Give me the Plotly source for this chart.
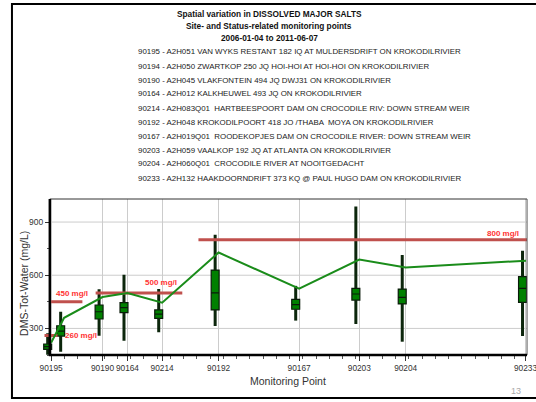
import plotly.graph_objects as go

# ---------------------------------------------------------------- data
station_ids = ["90195", "90194", "90190", "90164", "90214",
               "90192", "90167", "90203", "90204", "90233"]
# distance along the river (km), used as the x coordinate
station_km = [0.0, 4.9, 19.4, 28.8, 41.9, 63.2, 93.6, 116.3, 133.8, 179.2]
labelled = [True, False, True, True, True, True, True, True, True, True]

station_names = [
    "A2H051 VAN WYKS RESTANT 182 IQ AT MULDERSDRIFT ON KROKODILRIVIER",
    "A2H050 ZWARTKOP 250 JQ HOI-HOI AT HOI-HOI ON KROKODILRIVIER",
    "A2H045 VLAKFONTEIN 494 JQ DWJ31 ON KROKODILRIVIER",
    "A2H012 KALKHEUWEL 493 JQ ON KROKODILRIVIER",
    "A2H083Q01  HARTBEESPOORT DAM ON CROCODILE RIV: DOWN STREAM WEIR",
    "A2H048 KROKODILPOORT 418 JO /THABA  MOYA ON KROKODILRIVIER",
    "A2H019Q01  ROODEKOPJES DAM ON CROCODILE RIVER: DOWN STREAM WEIR",
    "A2H059 VAALKOP 192 JQ AT ATLANTA ON KROKODILRIVIER",
    "A2H060Q01  CROCODILE RIVER AT NOOITGEDACHT",
    "A2H132 HAAKDOORNDRIFT 373 KQ @ PAUL HUGO DAM ON KROKODILRIVIER",
]

# DMS statistics per station (mg/L)
dms_low = [152, 169, 259, 231, 278, 314, 344, 325, 225, 257]
dms_q1 = [182, 257, 353, 389, 357, 404, 408, 460, 438, 447]
dms_median = [197, 285, 394, 417, 381, 501, 434, 494, 475, 526]
dms_q3 = [212, 315, 432, 445, 404, 629, 464, 526, 522, 592]
dms_high = [272, 394, 521, 603, 522, 829, 540, 987, 714, 738]
dms_trend = [219, 360, 477, 500, 445, 728, 524, 688, 643, 682]

# water quality targets (mg/L) and the reach (km) they apply to
target_values = [260, 450, 500, 800]
target_from_km = [-2.5, 0.0, 16.8, 55.6]
target_to_km = [2.4, 11.8, 49.5, 179.8]
target_labels = ["260 mg/l", "450 mg/l", "500 mg/l", "800 mg/l"]

y_ticks = [300, 600, 900]
y_range = [150, 1030]
x_range = [-3.5, 179.6]

title_lines = ["Spatial variation in DISSOLVED MAJOR SALTS",
               "Site- and Status-related monitoring points",
               "2006-01-04 to 2011-06-07"]

# ---------------------------------------------------------------- layout helpers
W, H = 536, 402
FONT = "Liberation Sans, Arial, sans-serif"


def px_x(p):
    return p / W


def px_y(p):
    return 1 - p / H


PLOT_L, PLOT_R, PLOT_T, PLOT_B = 40, 527, 199, 355
AXIS_X = 48
BOX_SHIFT = -1.3   # boxes sit just left of their station tick
BOX_W = 3.0

fig = go.Figure()

# whiskers: below and above each box
wx, wy = [], []
for km, lo, q1, q3, hi in zip(station_km, dms_low, dms_q1, dms_q3, dms_high):
    xb = km + BOX_SHIFT
    wx += [xb, xb, None, xb, xb, None]
    wy += [lo, q1, None, q3, hi, None]
fig.add_trace(go.Scatter(x=wx, y=wy, mode="lines",
                         line=dict(color="#0c260c", width=3),
                         hoverinfo="skip", showlegend=False))

# boxes (inter-quartile range and median)
fig.add_trace(go.Box(
    x=[km + BOX_SHIFT for km in station_km],
    q1=dms_q1, median=dms_median, q3=dms_q3,
    lowerfence=dms_q1, upperfence=dms_q3,
    width=BOX_W, whiskerwidth=0, boxpoints=False,
    fillcolor="#008000", line=dict(color="#0a1a0a", width=1.2),
    showlegend=False))

# target lines
for v, a, b in zip(target_values, target_from_km, target_to_km):
    fig.add_trace(go.Scatter(x=[a, b], y=[v, v], mode="lines",
                             line=dict(color="#c0504d", width=3),
                             hoverinfo="skip", showlegend=False))

# trend line through the stations
fig.add_trace(go.Scatter(x=station_km, y=dms_trend, mode="lines",
                         line=dict(color="#1a8c1a", width=2),
                         hoverinfo="skip", showlegend=False))

annotations = []
# titles
for i, t in enumerate(title_lines):
    annotations.append(dict(text="<b>%s</b>" % t, x=px_x(268), y=px_y(14 + 12 * i),
                            xref="paper", yref="paper", showarrow=False,
                            xanchor="center", yanchor="middle",
                            font=dict(family=FONT, size=8.3, color="#111")))
# station list
for i, (sid, name) in enumerate(zip(station_ids, station_names)):
    annotations.append(dict(text="%s - %s" % (sid, name), x=px_x(134), y=px_y(52 + 14 * i),
                            xref="paper", yref="paper", showarrow=False,
                            xanchor="left", yanchor="middle",
                            font=dict(family=FONT, size=7.9, color="#222")))

# target labels
label_pos = [  # (x anchor, y shift px)
    ("left", 0), ("left", 8), ("left", 10), ("right", 6)]
label_x_km = [4.4, 1.1, 34.7, 177.2]
for (anc, ys), lx, v, lab in zip(label_pos, label_x_km, target_values, target_labels):
    annotations.append(dict(text="<b>%s</b>" % lab, x=lx, y=v, xref="x", yref="y",
                            showarrow=False, xanchor=anc, yanchor="middle",
                            yshift=ys,
                            font=dict(family=FONT, size=8, color="#ff3333")))

# the last station label sits on the frame edge; place it centred on its tick
annotations.append(dict(text=station_ids[-1], x=station_km[-1], y=px_y(PLOT_B + 6),
                        xref="x", yref="paper", showarrow=False,
                        xanchor="center", yanchor="top",
                        font=dict(family=FONT, size=8.3, color="#333")))

# axis titles and page number
annotations.append(dict(text="DMS-Tot-Water (mg/L)", x=px_x(22), y=px_y(283),
                        xref="paper", yref="paper", showarrow=False, textangle=-90,
                        xanchor="center", yanchor="middle",
                        font=dict(family=FONT, size=10.5, color="#333")))
annotations.append(dict(text="Monitoring Point", x=px_x(287), y=px_y(381),
                        xref="paper", yref="paper", showarrow=False,
                        xanchor="center", yanchor="middle",
                        font=dict(family=FONT, size=10.5, color="#333")))
annotations.append(dict(text="13", x=px_x(516), y=px_y(391),
                        xref="paper", yref="paper", showarrow=False,
                        xanchor="center", yanchor="middle",
                        font=dict(family=FONT, size=9, color="#aaa")))

shapes = []
# horizontal grid lines starting at the y axis
for v in y_ticks:
    shapes.append(dict(type="line", xref="paper", yref="y",
                       x0=px_x(AXIS_X), x1=px_x(PLOT_R), y0=v, y1=v,
                       line=dict(color="#cccccc", width=1), layer="below"))
# plot frame
shapes += [
    dict(type="line", xref="paper", yref="paper", x0=px_x(AXIS_X), x1=px_x(PLOT_R),
         y0=px_y(PLOT_T), y1=px_y(PLOT_T), line=dict(color="#333", width=1)),
    dict(type="line", xref="paper", yref="paper", x0=px_x(PLOT_R), x1=px_x(PLOT_R),
         y0=px_y(PLOT_T), y1=px_y(PLOT_B), line=dict(color="#555", width=1)),
    dict(type="line", xref="paper", yref="paper", x0=px_x(AXIS_X), x1=px_x(AXIS_X),
         y0=px_y(PLOT_T), y1=px_y(PLOT_B), line=dict(color="#000", width=2.5)),
    dict(type="line", xref="paper", yref="paper", x0=px_x(AXIS_X - 1), x1=px_x(PLOT_R),
         y0=px_y(PLOT_B), y1=px_y(PLOT_B), line=dict(color="#000", width=2.5)),
]
# page border
shapes.append(dict(type="rect", xref="paper", yref="paper",
                   x0=px_x(10), x1=px_x(560), y0=px_y(4), y1=px_y(398),
                   line=dict(color="#000", width=2), layer="below"))

tick_vals = [km for km, show in zip(station_km, labelled) if show]
tick_text = [s for s, show in zip(station_ids, labelled) if show]
tick_text[-1] = ""   # drawn as an annotation above

fig.update_layout(
    width=W, height=H, margin=dict(l=0, r=0, t=0, b=0),
    paper_bgcolor="white", plot_bgcolor="rgba(0,0,0,0)",
    showlegend=False, annotations=annotations, shapes=shapes,
    xaxis=dict(domain=[px_x(PLOT_L), px_x(PLOT_R)], range=x_range,
               tickmode="array", tickvals=tick_vals, ticktext=tick_text, tickangle=0,
               showgrid=True, gridcolor="#cccccc", gridwidth=1, zeroline=False,
               showline=False, ticks="outside", ticklen=5, tickwidth=1, tickcolor="#333",
               tickfont=dict(family=FONT, size=8.3, color="#333"),
               minor=dict(tickmode="linear", tick0=0, dtick=5, ticks="outside",
                          ticklen=3, tickcolor="#555", showgrid=False)),
    yaxis=dict(domain=[px_y(PLOT_B), px_y(PLOT_T)], range=y_range,
               anchor="free", position=px_x(AXIS_X),
               tickmode="array", tickvals=y_ticks,
               showgrid=False, zeroline=False, showline=False,
               ticks="outside", ticklen=5, tickwidth=1, tickcolor="#333",
               tickfont=dict(family=FONT, size=8.5, color="#333"),
               minor=dict(tickmode="linear", tick0=0, dtick=150, ticks="outside",
                          ticklen=3, tickcolor="#555", showgrid=False)),
)

fig.write_html("out.html")
